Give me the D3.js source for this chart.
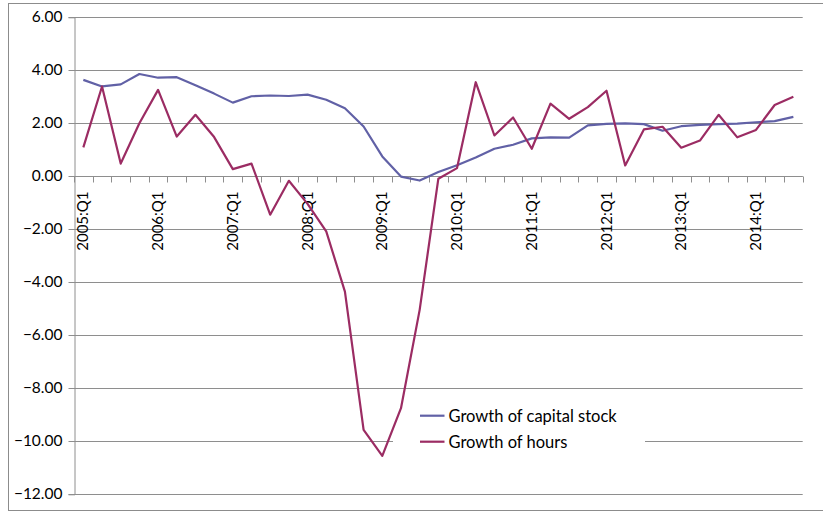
<!DOCTYPE html>
<html>
<head>
<meta charset="utf-8">
<script src="https://cdn.jsdelivr.net/npm/d3@7"></script>
<style>
  html, body { margin: 0; padding: 0; background: #fff; }
  svg { display: block; }
  text { font-family: Lato, "Open Sans", sans-serif; fill: #000; }
</style>
</head>
<body>
<div id="chart"></div>
<script>
// Quarterly periods, 2005:Q1 .. 2014:Q3
const years = d3.range(2005, 2015);
const quarters = [];
years.forEach(y => [1, 2, 3, 4].forEach(q => quarters.push(`${y}:Q${q}`)));
const categories = quarters.slice(0, 39);

// Growth rates (%)
const capitalStock = [
  3.64, 3.39, 3.47, 3.86, 3.72, 3.74, 3.44, 3.12, 2.78, 3.02,
  3.05, 3.03, 3.08, 2.89, 2.57, 1.88, 0.75, -0.01, -0.16, 0.16,
  0.42, 0.71, 1.04, 1.19, 1.43, 1.47, 1.46, 1.92, 1.98, 2.00,
  1.97, 1.72, 1.89, 1.94, 1.97, 1.99, 2.04, 2.08, 2.24
];
const hours = [
  1.09, 3.39, 0.48, 2.00, 3.26, 1.50, 2.32, 1.48, 0.27, 0.48,
  -1.45, -0.17, -1.04, -2.08, -4.35, -9.57, -10.55, -8.75, -5.04, -0.09,
  0.31, 3.55, 1.54, 2.22, 1.04, 2.74, 2.17, 2.61, 3.23, 0.41,
  1.77, 1.87, 1.08, 1.35, 2.32, 1.47, 1.75, 2.69, 3.00
];

const seriesNames = ["Growth of capital stock", "Growth of hours"];
const seriesColors = ["#6161a6", "#9b2c63"];
const yTicks = d3.range(-12, 6.01, 2);

const W = 823, H = 512;
const plot = { left: 74, right: 802.7, top: 17.3, bottom: 494.3 };

const svg = d3.select("#chart").append("svg")
  .attr("width", W).attr("height", H);

// chart frame
svg.append("rect")
  .attr("x", 8.5).attr("y", 3.5)
  .attr("width", 830).attr("height", 507)
  .attr("fill", "#fff").attr("stroke", "#8c8c8c").attr("stroke-width", 1);

const x = d3.scaleBand().domain(categories).range([plot.left, plot.right]).padding(0);
const y = d3.scaleLinear().domain([-12, 6]).range([plot.bottom, plot.top]);
const xc = d => x(d) + x.bandwidth() / 2;

// horizontal gridlines
svg.append("g").selectAll("line").data(yTicks).join("line")
  .attr("x1", plot.left).attr("x2", plot.right)
  .attr("y1", d => Math.round(y(d)) + 0.5).attr("y2", d => Math.round(y(d)) + 0.5)
  .attr("stroke", "#8e8e8e").attr("stroke-width", 1);

// legend background sits over the gridlines but under the series
const legend = svg.append("g");
legend.append("rect")
  .attr("x", 393).attr("y", 398).attr("width", 252).attr("height", 62)
  .attr("fill", "#fff");

// y axis
const yAxis = svg.append("g")
  .attr("transform", `translate(${plot.left + 0.5},0)`)
  .call(d3.axisLeft(y).tickValues(yTicks).tickFormat(d3.format(".2f")).tickSize(6).tickPadding(6));
yAxis.select(".domain").attr("stroke", "#8e8e8e");
yAxis.selectAll(".tick line").attr("stroke", "#8e8e8e");
yAxis.selectAll(".tick text")
  .attr("font-family", "Lato, sans-serif").attr("font-size", 15.5).attr("fill", "#000");
yAxis.selectAll(".tick").attr("transform", d => `translate(0,${Math.round(y(d)) + 0.5})`);

// category axis along the zero line
const y0 = Math.round(y(0)) + 0.5;
const xAxis = svg.append("g");
xAxis.append("line")
  .attr("x1", plot.left).attr("x2", plot.right)
  .attr("y1", y0).attr("y2", y0)
  .attr("stroke", "#8e8e8e");
const boundaries = categories.map(c => x(c)).concat([x.range()[1]]);
xAxis.selectAll("line.tick").data(boundaries).join("line")
  .attr("class", "tick")
  .attr("x1", d => Math.round(d) + 0.5).attr("x2", d => Math.round(d) + 0.5)
  .attr("y1", y0).attr("y2", y0 + 6)
  .attr("stroke", "#8e8e8e");
xAxis.selectAll("text").data(categories.filter(c => c.endsWith("Q1"))).join("text")
  .attr("transform", d => `translate(${xc(d) + 5},${y0 + 15}) rotate(-90)`)
  .attr("text-anchor", "end")
  .attr("font-size", 15)
  .text(d => d);

// series lines
const line = d3.line().x((d, i) => xc(categories[i])).y(d => y(d));
[capitalStock, hours].forEach((vals, k) => {
  svg.append("path")
    .datum(vals)
    .attr("d", line)
    .attr("fill", "none")
    .attr("stroke", seriesColors[k])
    .attr("stroke-width", 2.2)
    .attr("stroke-linejoin", "round");
});

// legend entries
seriesNames.forEach((name, k) => {
  const ly = 415.7 + k * 26;
  legend.append("line")
    .attr("x1", 420).attr("x2", 444.5)
    .attr("y1", ly).attr("y2", ly)
    .attr("stroke", seriesColors[k]).attr("stroke-width", 2.2);
  legend.append("text")
    .attr("x", 448.5).attr("y", ly + 6)
    .attr("font-size", 16.5)
    .text(name);
});
</script>
</body>
</html>
